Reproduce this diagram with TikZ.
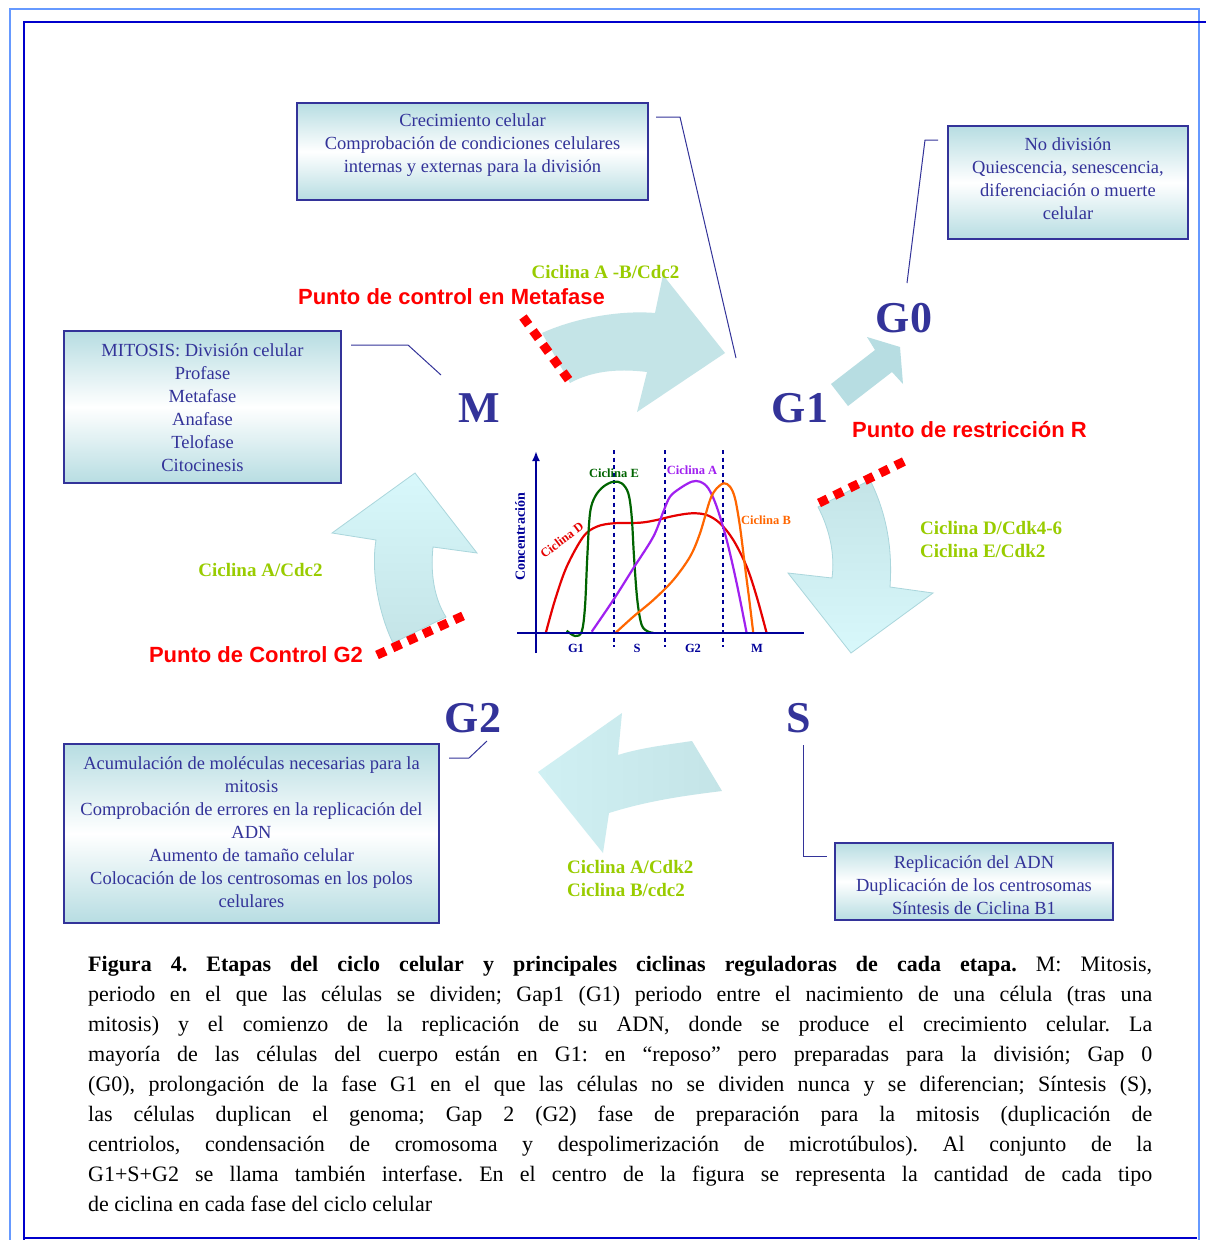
\documentclass[tikz,border=0pt]{standalone}
\usepackage{fontspec}
\setmainfont{Liberation Serif}
\setsansfont{Liberation Sans}
\usetikzlibrary{arrows.meta}
\definecolor{navy}{RGB}{51,51,153}
\definecolor{boxfill}{RGB}{183,221,226}
\definecolor{lime}{RGB}{153,204,0}
\definecolor{framelight}{RGB}{102,153,255}
\definecolor{framedark}{RGB}{0,0,204}
\definecolor{axiscol}{RGB}{0,0,153}
\definecolor{arrowA}{RGB}{196,228,231}
\definecolor{arrowB}{RGB}{216,248,251}
\definecolor{arrowEdge}{RGB}{170,214,220}
\definecolor{cycD}{RGB}{230,0,0}
\definecolor{cycE}{RGB}{0,100,0}
\definecolor{cycA}{RGB}{160,32,240}
\definecolor{cycB}{RGB}{255,102,0}
\begin{document}
\begin{tikzpicture}[x=1pt,y=-1pt,
 infobox/.style={draw=navy, line width=1.2pt, top color=boxfill, bottom color=boxfill, middle color=white, inner sep=0pt},
 boxtext/.style={text=navy, align=center, inner sep=0pt, font=\fontsize{18.5}{23}\selectfont},
 phase/.style={text=navy, inner sep=0pt, font=\fontsize{44}{44}\selectfont\bfseries},
 redlabel/.style={text=red, inner sep=0pt, font=\sffamily\bfseries\fontsize{22}{26}\selectfont},
 cyclabel/.style={text=lime, inner sep=0pt, align=left, font=\bfseries\fontsize{19}{23}\selectfont},
 conn/.style={draw=navy, line width=1pt},
 ckdots/.style={draw=red, line width=9pt, dash pattern=on 9.5pt off 7.5pt},
 bigarrow/.style={draw=arrowEdge, line width=0.8pt},
 chartlab/.style={inner sep=0pt, font=\bfseries\fontsize{12.5}{14}\selectfont},
 curve/.style={line width=2.2pt, line join=round}
]
\useasboundingbox (0,0) rectangle (1206,1240);
\fill[white] (0,0) rectangle (1206,1240);
% frames
\draw[framelight, line width=2pt] (10,1245) -- (10,9) -- (1199,9) -- (1199,1245);
\draw[framedark, line width=2.5pt] (24,1245) -- (24,22) -- (1210,22);
\draw[framedark, line width=2.5pt] (24,1238) -- (1197,1238);

% info boxes
\node[infobox, minimum width=351pt, minimum height=97pt] (b1) at (472.5,151.5) {};
\node[boxtext] (t1) at (472.5,145) {Crecimiento celular\\Comprobación de condiciones celulares\\internas y externas para la división};
\node[infobox, minimum width=240pt, minimum height=113pt] (b2) at (1068,182.5) {};
\node[boxtext] (t2) at (1068,178.5) {No división\\Quiescencia, senescencia,\\diferenciación o muerte\\celular};
\node[infobox, minimum width=277pt, minimum height=152pt] (b3) at (202.5,407) {};
\node[boxtext] (t3) at (202.5,407.5) {MITOSIS: División celular\\Profase\\Metafase\\Anafase\\Telofase\\Citocinesis};
\node[infobox, minimum width=375pt, minimum height=179pt] (b4) at (251.5,833.5) {};
\node[boxtext] (t4) at (251.5,832) {Acumulación de moléculas necesarias para la\\mitosis\\Comprobación de errores en la replicación del\\ADN\\Aumento de tamaño celular\\Colocación de los centrosomas en los polos\\celulares};
\node[infobox, minimum width=278pt, minimum height=77pt] (b5) at (974,881.5) {};
\node[boxtext] (t5) at (974,885) {Replicación del ADN\\Duplicación de los centrosomas\\Síntesis de Ciclina B1};

% connectors
\coordinate (c1a) at (656,117); \coordinate (c1b) at (680,117); \coordinate (c1c) at (736,358);
\draw[conn] (c1a) -- (c1b) -- (c1c);
\coordinate (c2a) at (938,140); \coordinate (c2b) at (925,140); \coordinate (c2c) at (907,283);
\draw[conn] (c2a) -- (c2b) -- (c2c);
\coordinate (c3a) at (351,345); \coordinate (c3b) at (408,345); \coordinate (c3c) at (441,375);
\draw[conn] (c3a) -- (c3b) -- (c3c);
\coordinate (c4a) at (449,758); \coordinate (c4b) at (469,758); \coordinate (c4c) at (487,741);
\draw[conn] (c4a) -- (c4b) -- (c4c);
\coordinate (c5a) at (803,745); \coordinate (c5b) at (803,856); \coordinate (c5c) at (827,856);
\draw[conn] (c5a) -- (c5b) -- (c5c);

% big curved arrows
\path[bigarrow, draw=none, fill=arrowA] (542,333) .. controls (575,318) and (620,310) .. (655,313) -- (663,275) -- (725,353) -- (637,412) -- (647,372) .. controls (615,368) and (590,372) .. (570,383) -- cycle;
\path[bigarrow, top color=arrowA, bottom color=arrowB] (818,507) .. controls (830,530) and (835,555) .. (832,578) -- (788,573) -- (851,653) -- (933,593) -- (890,587) .. controls (893,545) and (885,510) .. (870,480) -- cycle;
\path[bigarrow, draw=none, left color=arrowB!60!arrowA, right color=arrowA] (692,741) .. controls (665,745) and (640,748) .. (618,755) -- (622,713) -- (538,772) -- (603,853) -- (609,813) .. controls (650,800) and (690,795) .. (722,791) -- cycle;
\path[bigarrow, top color=arrowB, bottom color=arrowA] (393,643) .. controls (378,612) and (371,570) .. (376,540) -- (332,533) -- (415,473) -- (477,553) -- (433,547) .. controls (430,575) and (435,600) .. (446,617) -- cycle;
% G1 -> G0 straight arrow
\path[fill=boxfill] (831,384) -- (875,350) -- (867,337) -- (900,347) -- (903,384) -- (892,372) -- (848,406) -- cycle;

% checkpoint dotted lines
\coordinate (d1a) at (523,317); \coordinate (d1b) at (571,383);
\draw[ckdots] (d1a) -- (d1b);
\coordinate (d2a) at (819,503); \coordinate (d2b) at (909,459);
\draw[ckdots] (d2a) -- (d2b);
\coordinate (d3a) at (377,655); \coordinate (d3b) at (465,615);
\draw[ckdots] (d3a) -- (d3b);

% phase labels
\node[phase] (M) at (479,408) {M};
\node[phase] (G1) at (800,408) {G1};
\node[phase] (G0) at (904,318) {G0};
\node[phase] (G2) at (473,718) {G2};
\node[phase] (S) at (799,718) {S};

% red labels
\node[redlabel] (rl1) at (451.5,297) {Punto de control en Metafase};
\node[redlabel] (rl2) at (969.5,430) {Punto de restricción R};
\node[redlabel] (rl3) at (256,655) {Punto de Control G2};

% cyclin labels
\node[cyclabel] (gl1) at (605.5,272) {Ciclina A -B/Cdc2};
\node[cyclabel, anchor=west] (gl2) at (920,539) {Ciclina D/Cdk4-6\\Ciclina E/Cdk2};
\node[cyclabel] (gl3) at (260.5,570) {Ciclina A/Cdc2};
\node[cyclabel, anchor=west] (gl4) at (567,878) {Ciclina A/Cdk2\\Ciclina B/cdc2};

% chart
\foreach \xx in {614,665,723} \draw[axiscol, line width=1.3pt, dash pattern=on 4pt off 3.5pt] (\xx,450) -- (\xx,647);
\draw[cycD, curve] plot[smooth, tension=0.55] coordinates {(545.7,633.3) (555,600) (566.7,566.7) (583.3,536.7) (596.7,526.7) (613.3,523.3) (640,522.7) (656.7,520) (673.3,516) (691.7,513.3) (706.7,515) (720,523.3) (733.3,540) (746.7,566.7) (756.7,596.7) (766.7,633.3)};
\draw[cycE, curve] plot[smooth, tension=0.55] coordinates {(566.7,630.7) (575,636) (581.7,631.7) (585,606.7) (587.3,556.7) (590,513.3) (595,496.7) (603.3,486.7) (613.3,481.7) (621.7,483.3) (628.3,493.3) (631.7,516.7) (634,556.7) (637.3,600) (641.7,625) (648.3,631.7) (653.3,632.7)};
\draw[cycA, curve] plot[smooth, tension=0.55] coordinates {(591.7,631.7) (613.3,600) (633.3,568.3) (653.3,536.7) (663.3,511.7) (670,496.7) (680,488.3) (691.7,481.7) (700,481.7) (708.3,488.3) (716.7,506.7) (726.7,540) (736.7,583.3) (746.7,633.3)};
\draw[cycB, curve] plot[smooth, tension=0.55] coordinates {(615,633.3) (633.3,616.7) (653.3,600) (673.3,580) (690,556.7) (700,533.3) (710,500) (716.7,488.3) (724,483.3) (730,486.7) (735,498.3) (740,526.7) (745,566.7) (749.3,600) (753.3,633.3)};
\coordinate (ax0) at (517,633); \coordinate (ax1) at (804,633);
\draw[axiscol, line width=2.5pt] (ax0) -- (ax1);
\coordinate (ay0) at (536,653); \coordinate (ay1) at (536,451);
\draw[axiscol, line width=2pt, -{Latex[length=10pt,width=8pt]}] (ay0) -- (ay1);
\node[chartlab, text=axiscol] (xg1) at (576,648) {G1};
\node[chartlab, text=axiscol] (xs) at (637,648) {S};
\node[chartlab, text=axiscol] (xg2) at (693,648) {G2};
\node[chartlab, text=axiscol] (xm) at (757,648) {M};
\node[chartlab, text=axiscol, rotate=90, font=\bfseries\fontsize{14}{16}\selectfont] (ylab) at (520,537) {Concentración};
\node[chartlab, text=cycE] (lE) at (614,473) {Ciclina E};
\node[chartlab, text=cycA] (lA) at (692,470) {Ciclina A};
\node[chartlab, text=cycB] (lB) at (766,520) {Ciclina B};
\node[chartlab, text=cycD, rotate=37] (lD) at (562,540) {Ciclina D};

% caption
\node[anchor=north west, inner sep=0pt, text width=1064pt, align=justify, font=\fontsize{22}{30}\selectfont] (cap) at (88,956) {\frenchspacing\tolerance=10000\hyphenpenalty=10000\textbf{Figura 4. Etapas del ciclo celular y principales ciclinas reguladoras de cada etapa.} M: Mitosis,\linebreak periodo en el que las células se dividen; Gap1 (G1) periodo entre el nacimiento de una célula (tras una\linebreak mitosis) y el comienzo de la replicación de su ADN, donde se produce el crecimiento celular. La\linebreak mayoría de las células del cuerpo están en G1: en “reposo” pero preparadas para la división; Gap 0\linebreak (G0), prolongación de la fase G1 en el que las células no se dividen nunca y se diferencian; Síntesis (S),\linebreak las células duplican el genoma; Gap 2 (G2) fase de preparación para la mitosis (duplicación de\linebreak centriolos, condensación de cromosoma y despolimerización de microtúbulos). Al conjunto de la\linebreak G1+S+G2 se llama también interfase. En el centro de la figura se representa la cantidad de cada tipo\linebreak de ciclina en cada fase del ciclo celular};
\end{tikzpicture}
\end{document}
